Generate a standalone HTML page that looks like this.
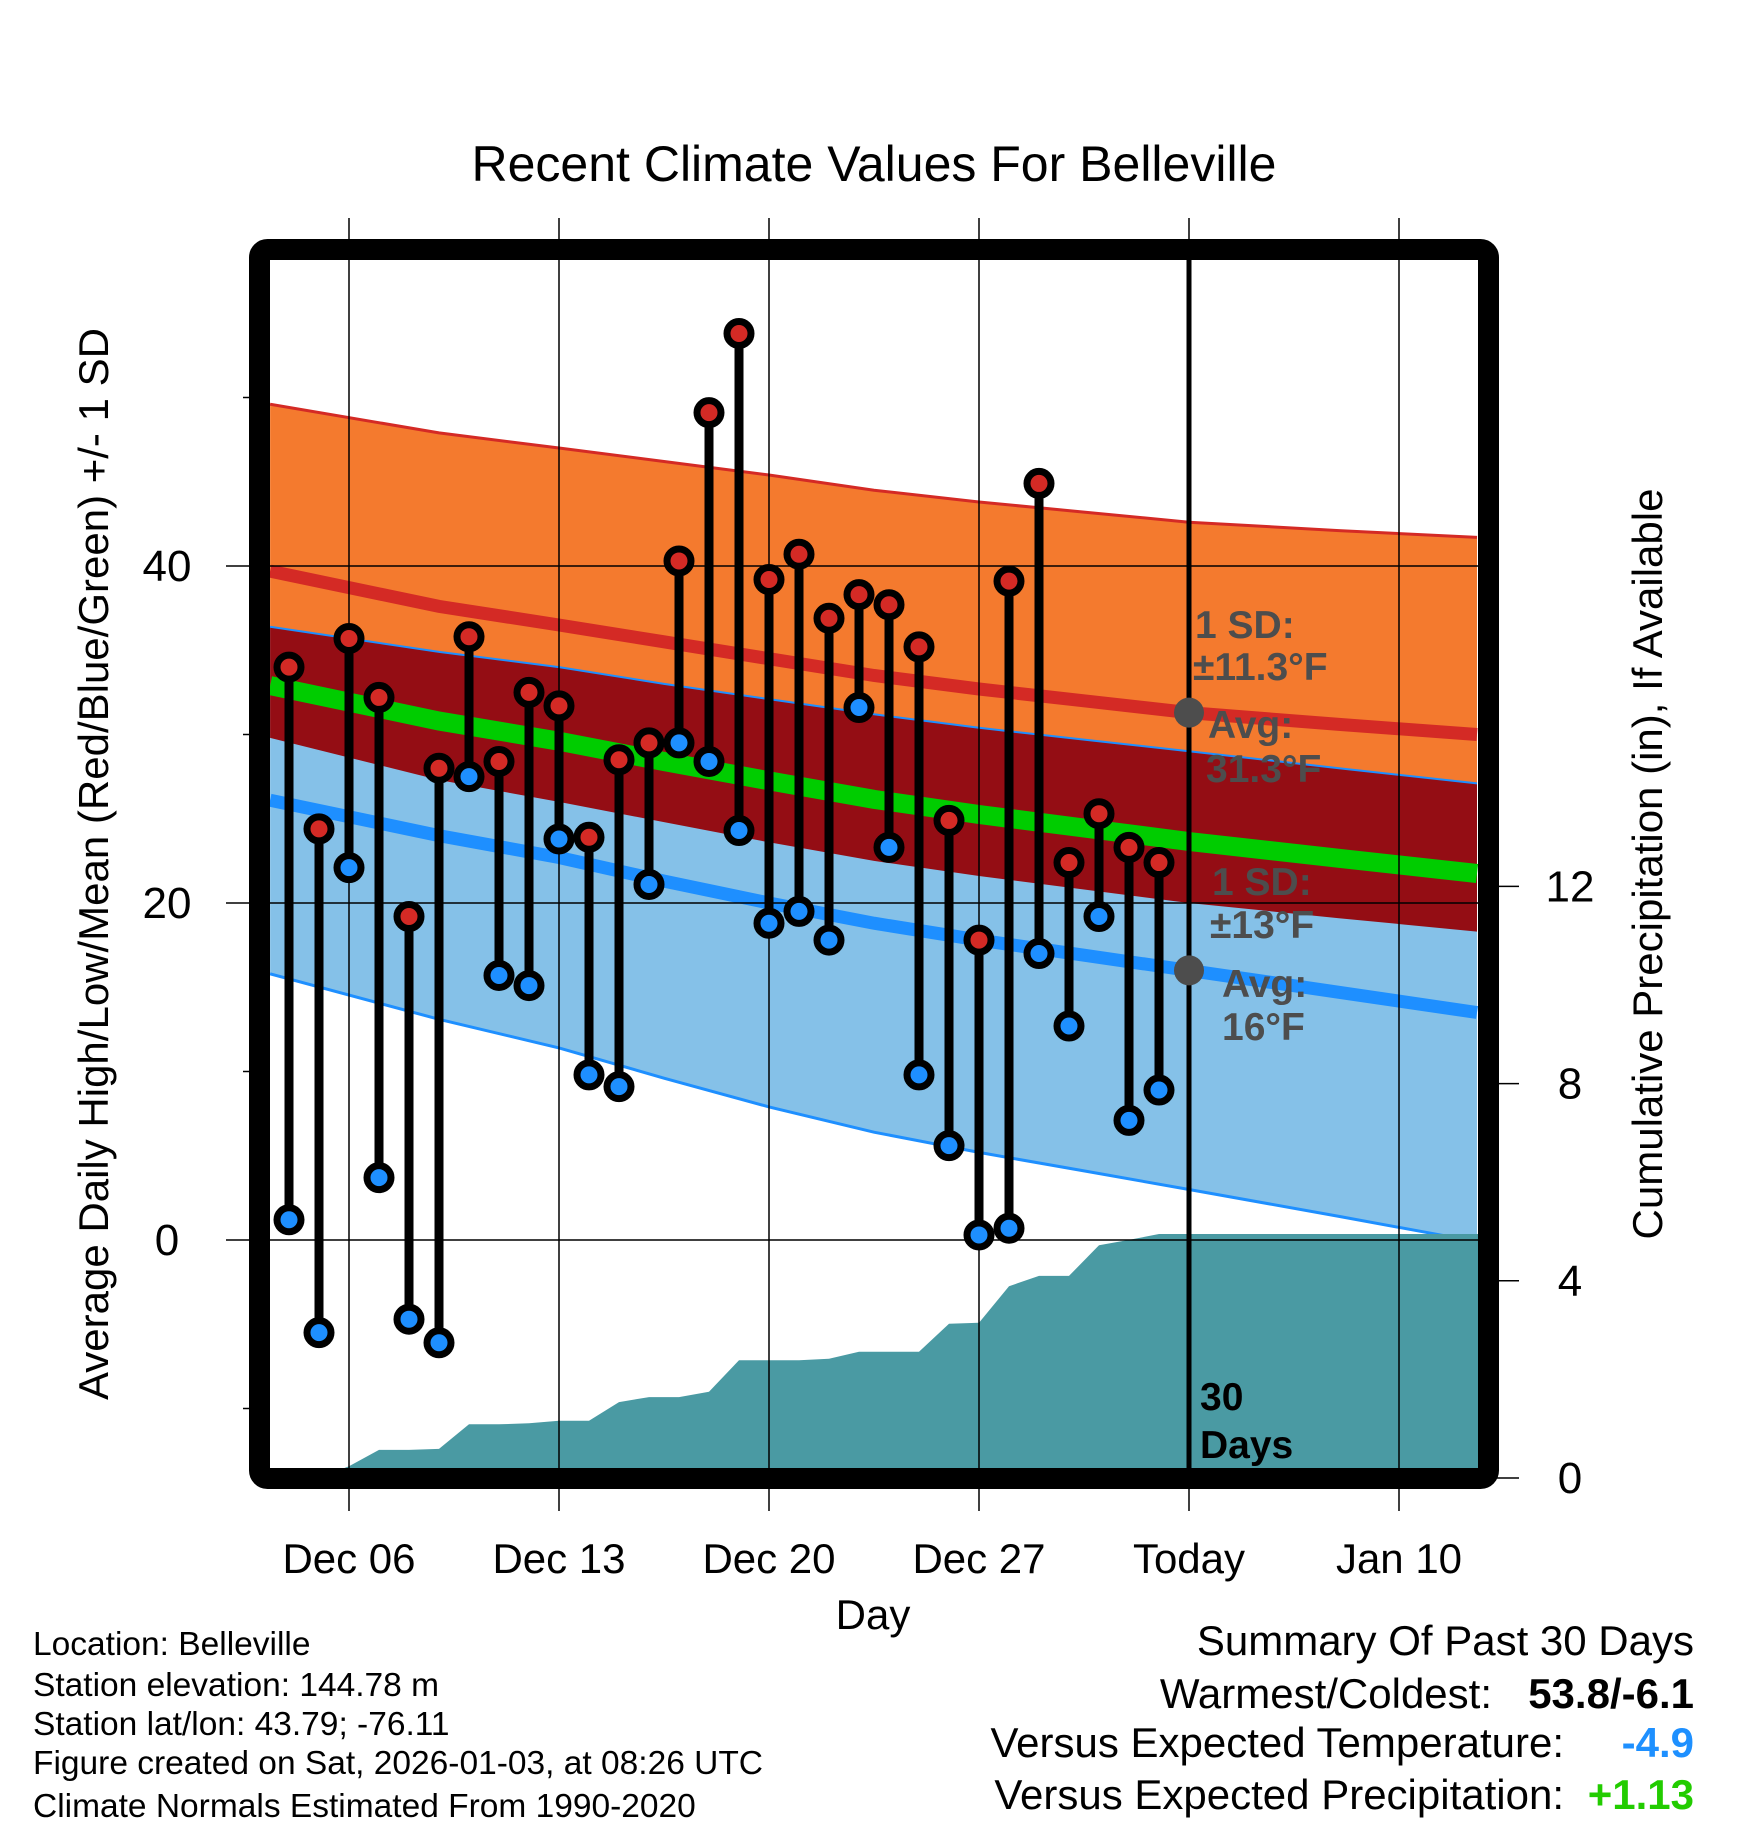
<!DOCTYPE html>
<html><head><meta charset="utf-8"><style>
html,body{margin:0;padding:0;background:#fff;}
svg{display:block;font-family:"Liberation Sans",Arial,sans-serif;}
</style></head><body>
<svg id="chart" width="1748" height="1828" viewBox="0 0 1748 1828" xmlns="http://www.w3.org/2000/svg">
<defs><clipPath id="plotclip"><rect x="270" y="260" width="1208" height="1208"/></clipPath></defs>
<text x="874" y="181" text-anchor="middle" font-size="50">Recent Climate Values For Belleville</text>
<g id="plot" clip-path="url(#plotclip)"></g>
<g id="over"></g>
<rect x="259.5" y="249.5" width="1229" height="1229" rx="8" fill="none" stroke="#000" stroke-width="21"/>
<text transform="translate(108,864) rotate(-90)" text-anchor="middle" font-size="42">Average Daily High/Low/Mean (Red/Blue/Green) +/- 1 SD</text>
<text transform="translate(1662,864) rotate(-90)" text-anchor="middle" font-size="42">Cumulative Precipitation (in), If Available</text>
<text x="873" y="1629" text-anchor="middle" font-size="42">Day</text>
<g font-size="33.5">
<text x="33" y="1655">Location: Belleville</text>
<text x="33" y="1696">Station elevation: 144.78 m</text>
<text x="33" y="1735">Station lat/lon: 43.79; -76.11</text>
<text x="33" y="1774">Figure created on Sat, 2026-01-03, at 08:26 UTC</text>
<text x="33" y="1817">Climate Normals Estimated From 1990-2020</text>
</g>
<g font-size="42">
<text x="1694" y="1655" text-anchor="end">Summary Of Past 30 Days</text>
<text x="1492" y="1708" text-anchor="end">Warmest/Coldest:</text>
<text x="1694" y="1708" text-anchor="end" font-weight="bold">53.8/-6.1</text>
<text x="1564" y="1757" text-anchor="end">Versus Expected Temperature:</text>
<text x="1694" y="1757" text-anchor="end" font-weight="bold" fill="#1e90ff">-4.9</text>
<text x="1564" y="1809" text-anchor="end">Versus Expected Precipitation:</text>
<text x="1694" y="1809" text-anchor="end" font-weight="bold" fill="#22cc00">+1.13</text>
</g>
</svg>
<script>
// day offsets relative to Dec 06 (Dec04 = -2)
const highs=[34.0,24.4,35.7,32.2,19.2,28.0,35.8,28.4,32.5,31.7,23.9,28.5,29.5,40.3,49.1,53.8,39.2,40.7,36.9,38.3,37.7,35.2,24.9,17.8,39.1,44.9,22.4,25.3,23.3,22.4];
const lows=[1.2,-5.5,22.1,3.7,-4.7,-6.1,27.5,15.7,15.1,23.8,9.8,9.1,21.1,29.5,28.4,24.3,18.8,19.5,17.8,31.6,23.3,9.8,5.6,0.3,0.7,17.0,12.7,19.2,7.1,8.9];
const precip=[0,0,0.24,0.57,0.57,0.59,1.09,1.09,1.11,1.16,1.16,1.54,1.64,1.64,1.75,2.39,2.39,2.39,2.42,2.56,2.56,2.56,3.13,3.15,3.89,4.10,4.10,4.72,4.83,4.95];
const normDays=[-2.63,3,7,10.5,14,17.5,21,24.5,28,33,37.6];
const normHigh=[39.7,37.6,36.5,35.5,34.5,33.5,32.7,32.0,31.3,30.6,30.0];
const normLow=[26.1,24.0,22.7,21.3,20.0,18.8,17.8,16.9,16.0,14.7,13.5];
const sdHigh=[9.9,10.3,10.5,10.7,10.9,11.0,11.1,11.2,11.3,11.5,11.7];
const sdLow=[10.3,10.9,11.3,11.7,12.1,12.4,12.6,12.8,13.0,13.3,13.6];
const xTickDays=[0,7,14,21,28,35];
const xTickLabels=["Dec 06","Dec 13","Dec 20","Dec 27","Today","Jan 10"];
const yTicks=[0,20,40];
const yMinor=[-10,10,30,50];
const y2Ticks=[0,4,8,12];

const NS="http://www.w3.org/2000/svg";
const X=d=>349+30*d;
const Y=t=>1240-16.85*t;
const Y2=p=>1478-49.3*p;
const plot=document.getElementById('plot'), over=document.getElementById('over');
function mk(tag,attrs,parent){const e=document.createElementNS(NS,tag);for(const k in attrs)e.setAttribute(k,attrs[k]);parent.appendChild(e);return e;}
const pts=(xs,ys)=>xs.map((x,i)=>X(x).toFixed(1)+','+ys[i].toFixed(1)).join(' ');
const hu=normHigh.map((v,i)=>Y(v+sdHigh[i])), hl=normHigh.map((v,i)=>Y(v-sdHigh[i]));
const lu=normLow.map((v,i)=>Y(v+sdLow[i])), ll=normLow.map((v,i)=>Y(v-sdLow[i]));
const rev=a=>a.slice().reverse();
let e;
e=mk('polygon',{points:pts(normDays,hu)+' '+pts(rev(normDays),rev(hl)),fill:'#f47a2e'},plot);


e=mk('polygon',{points:pts(normDays,lu)+' '+pts(rev(normDays),rev(ll)),fill:'#85c1e8'},plot);


e=mk('polygon',{points:pts(normDays,lu)+' '+pts(rev(normDays),rev(hl)),fill:'#940d14'},plot);


e=mk('polyline',{points:pts(normDays,hu),fill:'none',stroke:'#d42a25','stroke-width':3},plot);


e=mk('polyline',{points:pts(normDays,lu),fill:'none',stroke:'#1e8fff','stroke-width':2},plot);


e=mk('polyline',{points:pts(normDays,ll),fill:'none',stroke:'#1e8fff','stroke-width':3},plot);


e=mk('polyline',{points:pts(normDays,normHigh.map(Y)),fill:'none',stroke:'#d42a25','stroke-width':13},plot);


e=mk('polyline',{points:pts(normDays,normHigh.map((v,i)=>Y((v+normLow[i])/2))),fill:'none',stroke:'#00cc00','stroke-width':19},plot);


e=mk('polyline',{points:pts(normDays,normLow.map(Y)),fill:'none',stroke:'#1e8fff','stroke-width':13},plot);


const pdays=precip.map((p,i)=>i-2);
let pp=X(pdays[0])+','+Y2(0)+' '+pts(pdays,precip.map(Y2))+' 1490,'+Y2(precip[precip.length-1])+' 1490,'+Y2(0);
e=mk('polygon',{points:pp,fill:'#4a9aa3'},plot);


xTickDays.forEach((d,i)=>{
 e=mk('line',{x1:X(d),x2:X(d),y1:218,y2:1511,stroke:'#000','stroke-width':1.5},over);
 
 
 e=mk('text',{x:X(d),y:1573,'text-anchor':'middle','font-size':42},over);
 e.textContent=xTickLabels[i];
 
 
});
yTicks.forEach(t=>{
 e=mk('line',{x1:226,x2:1478,y1:Y(t),y2:Y(t),stroke:'#000','stroke-width':1.5},over);
 
 
 e=mk('text',{x:167,y:Y(t)+15,'text-anchor':'middle','font-size':44},over);
 e.textContent=t;
 
 
});
yMinor.forEach(t=>{
 e=mk('line',{x1:243,x2:252,y1:Y(t),y2:Y(t),stroke:'#000','stroke-width':1.5},over);
 
 
});
y2Ticks.forEach(p=>{
 e=mk('line',{x1:1490,x2:1519,y1:Y2(p),y2:Y2(p),stroke:'#000','stroke-width':1.5},over);
 
 
 e=mk('text',{x:1570,y:Y2(p)+15,'text-anchor':'middle','font-size':44},over);
 e.textContent=p;
 
 
});
e=mk('line',{x1:X(28),x2:X(28),y1:260,y2:1468,stroke:'#000','stroke-width':5},over);


highs.forEach((h,i)=>{
 const d=i-2;
 e=mk('line',{x1:X(d),x2:X(d),y1:Y(h),y2:Y(lows[i]),stroke:'#000','stroke-width':9},over);
 
 
});
highs.forEach((h,i)=>{
 const d=i-2;
 e=mk('circle',{cx:X(d),cy:Y(h),r:12,fill:'#d42a25',stroke:'#000','stroke-width':7},over);
 
 
 e=mk('circle',{cx:X(d),cy:Y(lows[i]),r:12,fill:'#1e8fff',stroke:'#000','stroke-width':7},over);
 
 
});
e=mk('circle',{cx:X(28),cy:Y(31.3),r:15,fill:'#4d4d4d'},over);


e=mk('circle',{cx:X(28),cy:Y(16),r:15,fill:'#4d4d4d'},over);


const ann=[["1 SD:",1195,638],["±11.3°F",1193,680],["Avg:",1208,738],["31.3°F",1206,782],["1 SD:",1212,895],["±13°F",1210,938],["Avg:",1222,997],["16°F",1222,1040]];
ann.forEach(a=>{
 e=mk('text',{x:a[1],y:a[2],'font-size':39,'font-weight':'bold',fill:'#4d4d4d'},over);
 e.textContent=a[0];
 
 
});
e=mk('text',{x:1200,y:1410,'font-size':39,'font-weight':'bold'},over);
e.textContent='30';


e=mk('text',{x:1200,y:1458,'font-size':39,'font-weight':'bold'},over);
e.textContent='Days';


</script>
</body></html>
